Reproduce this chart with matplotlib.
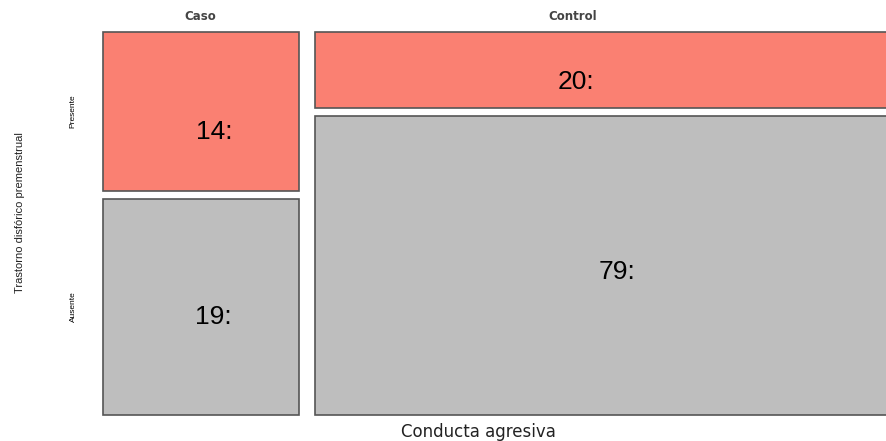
import matplotlib.pyplot as plt
from matplotlib.patches import Rectangle

# counts read from the mosaic
grupos = ['Caso', 'Control']
niveles = ['Presente', 'Ausente']
presente = [14, 20]
ausente = [19, 79]

colores = {'Presente': '#FA8072', 'Ausente': '#BEBEBE'}
gap_x = 16 / 784
gap_y = 8 / 375

fig = plt.figure(figsize=(8.87, 4.41), dpi=100)
ax = fig.add_axes([103 / 887, 26 / 441, 784 / 887, 383 / 441])
ax.set_xlim(0, 1.0)
ax.set_ylim(0, 1 + gap_y)
ax.axis('off')

total = sum(presente) + sum(ausente)
x0 = 0
label_dx = [13, -33]   # px offsets of the count labels, as in the picture
label_dy = [-20, -12]
for i, g in enumerate(grupos):
    n = presente[i] + ausente[i]
    w = n / total
    fa = ausente[i] / n
    fp = presente[i] / n
    # Ausente at bottom, Presente on top
    ax.add_patch(Rectangle((x0, 0), w, fa, facecolor=colores['Ausente'],
                           edgecolor='#555555', lw=1.2, clip_on=False))
    ax.add_patch(Rectangle((x0, fa + gap_y), w, fp, facecolor=colores['Presente'],
                           edgecolor='#555555', lw=1.2, clip_on=False))
    ax.annotate(f'{presente[i]}:', (x0 + w / 2, fa + gap_y + fp / 2),
                xytext=(label_dx[i] * 0.72, label_dy[i] * 0.72), textcoords='offset points',
                ha='center', va='center', fontsize=19, family='Liberation Sans')
    ax.annotate(f'{ausente[i]}:', (x0 + w / 2, fa / 2),
                xytext=((12 if i == 0 else 8) * 0.72, (-10 if i == 0 else -7) * 0.72),
                textcoords='offset points',
                ha='center', va='center', fontsize=19, family='Liberation Sans')
    x0 += w + gap_x

# strip labels
fig.text(200 / 887, 1 - 17 / 441, 'Caso', ha='center', va='center', fontsize=8.5,
         fontweight='bold', color='#444444')
fig.text(573 / 887, 1 - 17 / 441, 'Control', ha='center', va='center', fontsize=8.5,
         fontweight='bold', color='#444444')

# row labels
fa0 = ausente[0] / (presente[0] + ausente[0])
ax.text(-30 / 784, fa0 + gap_y + (1 - fa0) / 2, 'Presente', rotation=90, ha='center',
        va='center', fontsize=6, family='Liberation Sans')
ax.text(-30 / 784, fa0 / 2, 'Ausente', rotation=90, ha='center', va='center',
        fontsize=6, family='Liberation Sans')

fig.text(20 / 887, 1 - 213 / 441, 'Trastorno disfórico premenstrual', rotation=90,
         ha='center', va='center', fontsize=8, family='Liberation Sans', color='#222222')
fig.text(478 / 887, 1 - 432 / 441, 'Conducta agresiva', ha='center', va='center',
         fontsize=12, color='#222222')

fig.savefig('out.png', dpi=100, facecolor='white')
